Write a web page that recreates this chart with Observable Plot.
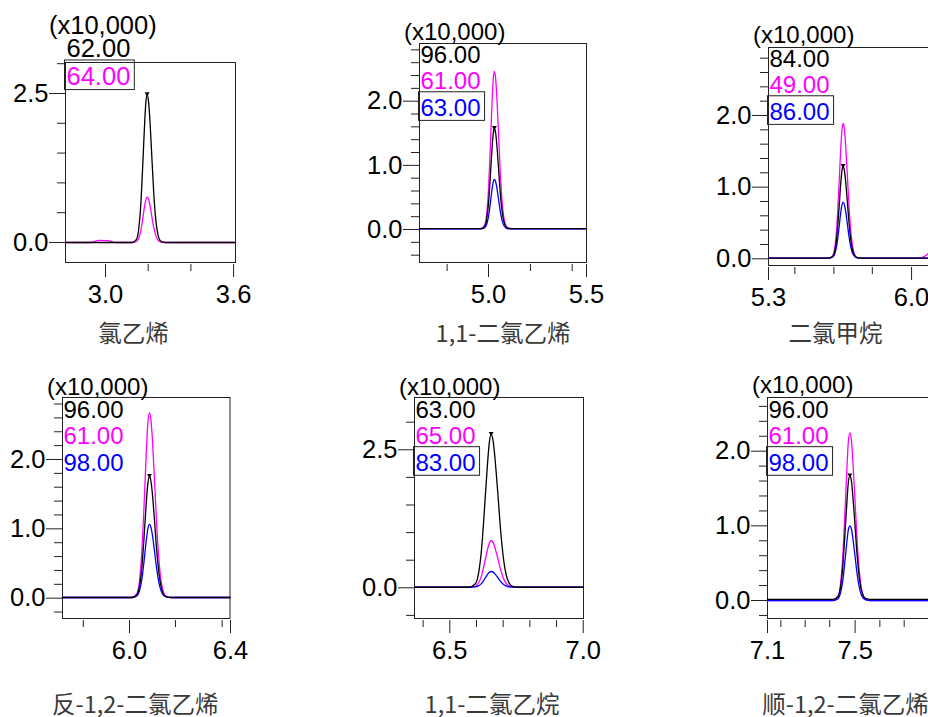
<!DOCTYPE html>
<html><head><meta charset="utf-8">
<script src="https://cdn.jsdelivr.net/npm/d3@7"></script>
<script src="https://cdn.jsdelivr.net/npm/@observablehq/plot@0.6"></script>
<style>
html,body{margin:0;padding:0;background:#fff;}
#chart{position:relative;width:928px;height:717px;overflow:hidden;background:#fff;}
#chart svg{position:absolute;}
</style></head><body><div id="chart"></div>
<script>
// ---------- DATA ----------
const titles = ["氯乙烯", "1,1-二氯乙烯", "二氯甲烷", "反-1,2-二氯乙烯", "1,1-二氯乙烷", "顺-1,2-二氯乙烯"];
const multiplier = "(x10,000)";

// Panel 1: 氯乙烯
const p1Time    = [2.8125, 2.93, 2.97, 3.01, 3.05, 3.125, 3.145, 3.155, 3.165, 3.175, 3.183, 3.189, 3.195, 3.201, 3.207, 3.215, 3.225, 3.235, 3.245, 3.26, 3.28, 3.609];
const p1Black   = [0, 0, 0, 0, 0, 0, 0.052, 0.21, 0.62, 1.34, 1.98, 2.35, 2.48, 2.38, 2.11, 1.58, 0.89, 0.40, 0.146, 0.02, 0, 0];
const p1Magenta = [0, 0, 0.035, 0.03, 0, 0, 0.016, 0.065, 0.19, 0.41, 0.61, 0.72, 0.76, 0.73, 0.65, 0.48, 0.27, 0.124, 0.045, 0.006, 0, 0];
const p1Ions = ["62.00", "64.00"];
const p1XMajor = [3.0, 3.6], p1XMinor = [3.2, 3.4];
const p1YMajor = [0, 2.5], p1YMinor = [0.5, 1.0, 1.5, 2.0, 3.0];

// Panel 2: 1,1-二氯乙烯
const p2Time    = [4.648, 4.96, 4.98, 4.99, 5.00, 5.01, 5.018, 5.024, 5.03, 5.036, 5.042, 5.05, 5.06, 5.07, 5.08, 5.095, 5.115, 5.5];
const p2Black   = [0.015, 0.015, 0.048, 0.148, 0.403, 0.857, 1.263, 1.491, 1.575, 1.513, 1.341, 1.007, 0.577, 0.269, 0.107, 0.027, 0.015, 0.015];
const p2Magenta = [0.015, 0.015, 0.066, 0.223, 0.625, 1.338, 1.975, 2.333, 2.465, 2.367, 2.098, 1.573, 0.897, 0.414, 0.16, 0.035, 0.015, 0.015];
const p2Blue    = [0.01, 0.01, 0.026, 0.075, 0.202, 0.426, 0.626, 0.738, 0.78, 0.749, 0.665, 0.50, 0.287, 0.136, 0.055, 0.016, 0.01, 0.01];
const p2Ions = ["96.00", "61.00", "63.00"];
const p2XMajor = [5.0, 5.5], p2XMinor = [4.789, 5.214, 5.427];
const p2YMajor = [0, 1, 2], p2YMinor = [-0.4, -0.2, 0.2, 0.4, 0.6, 0.8, 1.2, 1.4, 1.6, 1.8, 2.2, 2.4, 2.6, 2.8];

// Panel 3: 二氯甲烷
const p3Time    = [5.3, 5.595, 5.615, 5.625, 5.635, 5.645, 5.653, 5.659, 5.665, 5.671, 5.677, 5.685, 5.695, 5.705, 5.715, 5.73, 5.75, 6.04, 6.06, 6.083, 6.10, 6.122];
const p3Black   = [0.01, 0.01, 0.037, 0.119, 0.329, 0.701, 1.034, 1.221, 1.29, 1.239, 1.098, 0.824, 0.471, 0.219, 0.086, 0.02, 0.01, 0.01, 0.01, 0.01, 0.01, 0.01];
const p3Magenta = [0.01, 0.01, 0.049, 0.17, 0.478, 1.025, 1.514, 1.788, 1.89, 1.815, 1.608, 1.206, 0.687, 0.316, 0.121, 0.025, 0.01, 0.01, 0.03, 0.075, 0.14, 0.26];
const p3Blue    = [0.01, 0.01, 0.026, 0.076, 0.204, 0.431, 0.634, 0.748, 0.79, 0.759, 0.673, 0.506, 0.291, 0.137, 0.056, 0.016, 0.01, 0.01, 0.01, 0.01, 0.01, 0.01];
const p3Ions = ["84.00", "49.00", "86.00"];
const p3XMajor = [5.3, 6.0], p3XMinor = [5.429, 5.62, 5.808];
const p3YMajor = [0, 1, 2], p3YMinor = [0.2, 0.4, 0.6, 0.8, 1.2, 1.4, 1.6, 1.8, 2.2, 2.4, 2.6, 2.8];

// Panel 4: 反-1,2-二氯乙烯
const p4Time    = [5.7347, 6.009, 6.029, 6.039, 6.049, 6.059, 6.067, 6.073, 6.079, 6.085, 6.091, 6.099, 6.109, 6.119, 6.129, 6.144, 6.164, 6.398];
const p4Black   = [0.01, 0.01, 0.047, 0.158, 0.445, 0.953, 1.407, 1.662, 1.756, 1.686, 1.494, 1.12, 0.639, 0.295, 0.113, 0.024, 0.01, 0.01];
const p4Magenta = [0.01, 0.01, 0.066, 0.237, 0.674, 1.449, 2.142, 2.531, 2.675, 2.568, 2.275, 1.705, 0.969, 0.444, 0.167, 0.031, 0.01, 0.01];
const p4Blue    = [0.01, 0.01, 0.032, 0.10, 0.272, 0.579, 0.852, 1.006, 1.063, 1.021, 0.905, 0.68, 0.389, 0.182, 0.072, 0.018, 0.01, 0.01];
const p4Ions = ["96.00", "61.00", "98.00"];
const p4XMajor = [6.0, 6.4], p4XMinor = [5.817, 6.182, 6.367];
const p4YMajor = [0, 1, 2], p4YMinor = [-0.2, 0.2, 0.4, 0.6, 0.8, 1.2, 1.4, 1.6, 1.8, 2.2, 2.4, 2.6, 2.8];

// Panel 5: 1,1-二氯乙烷
const p5Time    = [6.3677, 6.571, 6.595, 6.607, 6.619, 6.631, 6.641, 6.648, 6.655, 6.662, 6.669, 6.679, 6.691, 6.703, 6.715, 6.733, 6.757, 7.001];
const p5Black   = [0.01, 0.01, 0.068, 0.245, 0.70, 1.506, 2.226, 2.63, 2.78, 2.669, 2.364, 1.772, 1.007, 0.461, 0.173, 0.032, 0.01, 0.01];
const p5Magenta = [0.01, 0.01, 0.028, 0.082, 0.221, 0.467, 0.688, 0.811, 0.857, 0.823, 0.73, 0.549, 0.315, 0.148, 0.06, 0.017, 0.01, 0.01];
const p5Blue    = [0.01, 0.01, 0.016, 0.034, 0.081, 0.164, 0.238, 0.28, 0.295, 0.284, 0.252, 0.191, 0.113, 0.056, 0.027, 0.012, 0.01, 0.01];
const p5Ions = ["63.00", "65.00", "83.00"];
const p5XMajor = [6.5, 7.0], p5XMinor = [6.4, 6.6, 6.7, 6.8, 6.9];
const p5YMajor = [0, 2.5], p5YMinor = [-0.5, 0.5, 1.0, 1.5, 2.0, 3.0];

// Panel 6: 顺-1,2-二氯乙烯
const p6Time    = [7.1, 7.399, 7.421, 7.432, 7.443, 7.454, 7.463, 7.469, 7.476, 7.483, 7.489, 7.498, 7.509, 7.52, 7.531, 7.548, 7.57, 7.867];
const p6Black   = [0.015, 0.015, 0.05, 0.156, 0.427, 0.909, 1.339, 1.581, 1.67, 1.604, 1.422, 1.068, 0.611, 0.285, 0.113, 0.028, 0.015, 0.015];
const p6Magenta = [0, 0, 0.047, 0.191, 0.559, 1.212, 1.796, 2.124, 2.245, 2.155, 1.908, 1.428, 0.808, 0.366, 0.132, 0.018, 0, 0];
const p6Blue    = [0, 0, 0.021, 0.085, 0.249, 0.54, 0.80, 0.946, 1.0, 0.96, 0.85, 0.636, 0.36, 0.163, 0.059, 0.008, 0, 0];
const p6Ions = ["96.00", "61.00", "98.00"];
const p6XMajor = [7.1, 7.5], p6XMinor = [7.161, 7.272, 7.384, 7.613, 7.724, 7.835];
const p6YMajor = [0, 1, 2], p6YMinor = [-0.2, 0.2, 0.4, 0.6, 0.8, 1.2, 1.4, 1.6, 1.8, 2.2, 2.4, 2.6];

// ---------- STYLE / LAYOUT ----------
const BLACK = "#000000", MAGENTA = "#ff00ff", BLUE = "#0000ff";
const NUM_FONT = "'Liberation Sans', Arial, Helvetica, sans-serif";
const CJK_FONT = "'Noto Sans CJK SC', 'Noto Sans', sans-serif";

const panels = [
  {title: titles[0], time: p1Time, series: [["m", p1Magenta, MAGENTA], ["k", p1Black, BLACK]], ions: p1Ions, ionColors: [BLACK, MAGENTA], boxed: true,
   xDomain: [2.8125, 3.609], yDomain: [-0.336, 3.02], xMajor: p1XMajor, xMinor: p1XMinor, yMajor: p1YMajor, yMinor: p1YMinor,
   cell: {x: 0, y: 0, w: 330, h: 355}, frame: {L: 65, R: 235, T: 62, B: 262},
   leg: {mx: -16.5, my: -37, dx: 1, dy0: -13.2, step: 27.5, fs: 25.5}, tdx: -17, tdy: 72},
  {title: titles[1], time: p2Time, series: [["m", p2Magenta, MAGENTA], ["b", p2Blue, BLUE], ["k", p2Black, BLACK]], ions: p2Ions, ionColors: [BLACK, MAGENTA, BLUE], boxed: true,
   xDomain: [4.648, 5.5], yDomain: [-0.514, 2.899], xMajor: p2XMajor, xMinor: p2XMinor, yMajor: p2YMajor, yMinor: p2YMinor,
   cell: {x: 330, y: 0, w: 350, h: 355}, frame: {L: 419, R: 586, T: 43, B: 262},
   leg: {mx: -15.5, my: -11.5, dx: 1, dy0: 12, step: 26.3, fs: 24}, tdx: 0, tdy: 72},
  {title: titles[2], time: p3Time, series: [["m", p3Magenta, MAGENTA], ["b", p3Blue, BLUE], ["k", p3Black, BLACK]], ions: p3Ions, ionColors: [BLACK, MAGENTA, BLUE], boxed: true,
   xDomain: [5.3, 6.122], yDomain: [-0.0935, 2.949], xMajor: p3XMajor, xMinor: p3XMinor, yMajor: p3YMajor, yMinor: p3YMinor,
   cell: {x: 680, y: 0, w: 300, h: 355}, frame: {L: 768, R: 936, T: 47, B: 265},
   leg: {mx: -15.5, my: -12, dx: 1, dy0: 12, step: 26.3, fs: 24}, tdx: -17, tdy: 69},
  {title: titles[3], time: p4Time, series: [["m", p4Magenta, MAGENTA], ["b", p4Blue, BLUE], ["k", p4Black, BLACK]], ions: p4Ions, ionColors: [BLACK, MAGENTA, BLUE], boxed: false,
   xDomain: [5.7347, 6.398], yDomain: [-0.293, 2.894], xMajor: p4XMajor, xMinor: p4XMinor, yMajor: p4YMajor, yMinor: p4YMinor,
   cell: {x: 0, y: 355, w: 330, h: 362}, frame: {L: 62, R: 229.5, T: 397, B: 618},
   leg: {mx: -15.5, my: -10, dx: 1, dy0: 13, step: 26.3, fs: 24}, tdx: -11, tdy: 87},
  {title: titles[4], time: p5Time, series: [["m", p5Magenta, MAGENTA], ["b", p5Blue, BLUE], ["k", p5Black, BLACK]], ions: p5Ions, ionColors: [BLACK, MAGENTA, BLUE], boxed: true,
   xDomain: [6.3677, 7.001], yDomain: [-0.556, 3.447], xMajor: p5XMajor, xMinor: p5XMinor, yMajor: p5YMajor, yMinor: p5YMinor,
   cell: {x: 330, y: 355, w: 350, h: 362}, frame: {L: 414, R: 583, T: 397, B: 618},
   leg: {mx: -15.5, my: -10, dx: 1, dy0: 12.5, step: 26.5, fs: 24}, tdx: -7, tdy: 87},
  {title: titles[5], time: p6Time, series: [["m", p6Magenta, MAGENTA], ["b", p6Blue, BLUE], ["k", p6Black, BLACK]], ions: p6Ions, ionColors: [BLACK, MAGENTA, BLUE], boxed: true,
   xDomain: [7.1, 7.867], yDomain: [-0.241, 2.719], xMajor: p6XMajor, xMinor: p6XMinor, yMajor: p6YMajor, yMinor: p6YMinor,
   cell: {x: 680, y: 355, w: 300, h: 362}, frame: {L: 767, R: 935, T: 397, B: 618},
   leg: {mx: -15.5, my: -12, dx: 1, dy0: 12.5, step: 26.5, fs: 24}, tdx: -6, tdy: 87}
];

const container = document.getElementById("chart");
const fmt = d3.format(".1f");

for (const p of panels) {
  const {cell, frame, leg} = p;
  const lineMarks = p.series.map(([key, values, color]) =>
    Plot.line(p.time.map((t, i) => ({t, v: values[i]})), {x: "t", y: "v", stroke: color, strokeWidth: 1.3, curve: "monotone-x"}));
  const blackVals = p.series.find(s => s[0] === "k")[1];
  const blackRows = p.time.map((t, i) => ({t, v: blackVals[i]}));

  const legendMarks = [
    Plot.text([multiplier], {frameAnchor: "top-left", dx: leg.mx, dy: leg.my, text: d => d, textAnchor: "start", lineAnchor: "middle", fontSize: leg.fs, fill: BLACK})
  ];
  p.ions.forEach((ion, i) => {
    legendMarks.push(Plot.text([ion], {frameAnchor: "top-left", dx: leg.dx, dy: leg.dy0 + i * leg.step, text: d => d, textAnchor: "start", lineAnchor: "middle", fontSize: leg.fs, fill: p.ionColors[i]}));
  });

  const svg = Plot.plot({
    width: cell.w, height: cell.h,
    marginLeft: frame.L - cell.x, marginRight: cell.x + cell.w - frame.R,
    marginTop: frame.T - cell.y, marginBottom: cell.y + cell.h - frame.B,
    style: {background: "transparent", overflow: "visible", fontFamily: NUM_FONT, fontSize: "25.5px", color: "#000", maxWidth: "none"},
    x: {domain: p.xDomain, label: null},
    y: {domain: p.yDomain, label: null},
    marks: [
      Plot.frame({stroke: "#222", strokeWidth: 1}),
      Plot.axisY(p.yMinor, {tickSize: 8, fill: "none", label: null, stroke: "#222"}),
      Plot.axisY(p.yMajor, {tickSize: 16, tickPadding: 1, tickFormat: fmt, label: null, stroke: "#222"}),
      Plot.axisX(p.xMinor, {tickSize: 7, dy: 2, fill: "none", label: null, stroke: "#222"}),
      Plot.axisX(p.xMajor, {tickSize: 13, dy: 2, tickPadding: 7, tickFormat: fmt, label: null, stroke: "#222"}),
      ...lineMarks,
      Plot.dot(blackRows, Plot.selectMaxY({x: "t", y: "v", symbol: "triangle", r: 1.8, rotate: 180, fill: BLACK, stroke: "none", dy: -1})),
      ...legendMarks,
      Plot.text([p.title], {frameAnchor: "bottom", dx: p.tdx, dy: p.tdy, text: d => d, fontFamily: CJK_FONT, fontSize: 23.5, fill: "#3a3a3a", lineAnchor: "middle"})
    ]
  });
  svg.style.left = cell.x + "px";
  svg.style.top = cell.y + "px";
  container.appendChild(svg);

  if (p.boxed) {
    const lastIon = p.ions[p.ions.length - 1];
    svg.querySelectorAll("text").forEach(t => {
      if (t.textContent !== lastIon) return;
      const b = t.getBBox();
      const r = document.createElementNS("http://www.w3.org/2000/svg", "rect");
      r.setAttribute("x", b.x - 2);
      r.setAttribute("y", b.y - 2);
      r.setAttribute("width", b.width + 6);
      r.setAttribute("height", b.height + 1.6);
      r.setAttribute("fill", "none");
      r.setAttribute("stroke", "#222");
      r.setAttribute("stroke-width", 1);
      if (t.getAttribute("transform")) r.setAttribute("transform", t.getAttribute("transform"));
      t.parentNode.insertBefore(r, t);
    });
  }
}
</script>
</body></html>
